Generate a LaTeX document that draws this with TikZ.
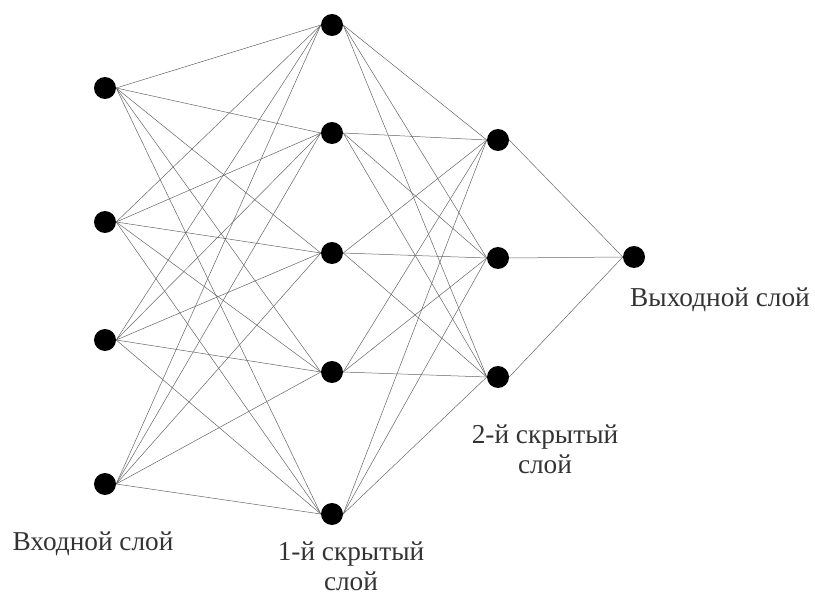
\documentclass[tikz,border=0pt]{standalone}
\usepackage{fontspec}
\setmainfont{Liberation Serif}
\begin{document}
\begin{tikzpicture}[x=1pt,y=-1pt,
  neuron/.style={circle,fill=black,inner sep=0pt,minimum size=22pt},
  link/.style={draw=black!60,line width=0.5pt},
  lbl/.style={font=\fontsize{27.3}{30}\selectfont,text=black!80,align=center,inner sep=0pt}]
\useasboundingbox (0,0) rectangle (815,599);
% input layer
\node[neuron] (i1) at (105,88) {};
\node[neuron] (i2) at (105,222) {};
\node[neuron] (i3) at (105,340) {};
\node[neuron] (i4) at (105,484) {};
% hidden 1
\node[neuron] (a1) at (332,25) {};
\node[neuron] (a2) at (332,133) {};
\node[neuron] (a3) at (332,253) {};
\node[neuron] (a4) at (332,372) {};
\node[neuron] (a5) at (332,514) {};
% hidden 2
\node[neuron] (b1) at (498,140) {};
\node[neuron] (b2) at (498,258) {};
\node[neuron] (b3) at (498,377) {};
% output
\node[neuron] (o1) at (634,257) {};
\foreach \i in {1,...,4}{\foreach \j in {1,...,5}{\draw[link] (i\i.east) -- (a\j.west);}}
\foreach \i in {1,...,5}{\foreach \j in {1,...,3}{\draw[link] (a\i.east) -- (b\j.west);}}
\foreach \i in {1,...,3}{\draw[link] (b\i.east) -- (o1.west);}
% labels
\node[lbl,anchor=base] (l1) at (93,550) {Входной слой};
\node[lbl,anchor=base] (l2) at (351,590) {1-й скрытый\\слой};
\node[lbl,anchor=base] (l3) at (545,473) {2-й скрытый\\слой};
\node[lbl,anchor=base] (l4) at (720,306) {Выходной слой};
\end{tikzpicture}
\end{document}
